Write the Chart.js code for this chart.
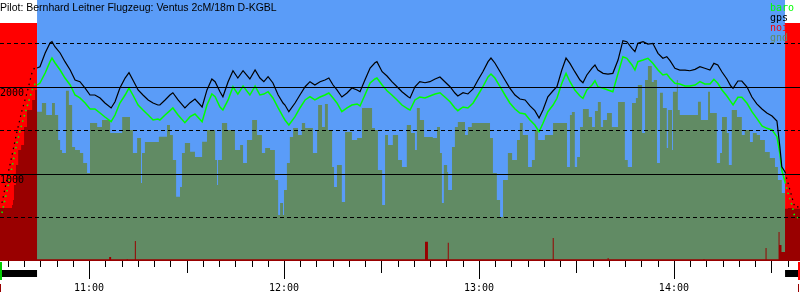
<!DOCTYPE html>
<html>
<head>
<meta charset="utf-8">
<script src="https://cdn.jsdelivr.net/npm/chart.js@4.4.1/dist/chart.umd.min.js"></script>
<style>
  html, body { margin: 0; padding: 0; background: #fff; }
  #wrap { width: 800px; height: 300px; }
</style>
</head>
<body>
<div id="wrap"><canvas id="barogram" width="800" height="300"></canvas></div>
<script>
const title = 'Pilot: Bernhard Leitner Flugzeug: Ventus 2cM/18m D-KGBL';

// time axis, minutes after midnight
const timeMin = 632.6;
const timeMax = 878.8;
const hourTicks = [660, 720, 780, 840];
const hourLabels = ['11:00', '12:00', '13:00', '14:00'];
const altTicks = [1000, 2000];
const altLabels = ['1000', '2000'];

const takeoff = 644.0;
const landing = 874.2;
const engineRuns = [[632.6, 644.0], [874.2, 878.8]];
const engineTop = 2735;

const trackTimes = [633.2, 634.8, 636.3, 637.8, 639.4, 640.9, 642.5, 643.4, 644.0, 644.9,
    646.5, 648.0, 648.6, 649.5, 651.1, 652.6, 654.2, 655.7, 657.2, 658.8,
    660.3, 661.8, 663.4, 664.9, 666.8, 668.0, 669.5, 671.1, 672.3, 673.5,
    675.1, 676.6, 678.2, 679.7, 681.2, 681.8, 683.4, 684.9, 685.8, 687.4,
    689.5, 691.1, 692.6, 694.8, 696.3, 697.8, 698.8, 700.3, 701.2, 702.8,
    704.3, 705.8, 707.4, 709.5, 711.1, 712.6, 713.8, 715.1, 716.6, 718.2,
    719.7, 720.3, 721.5, 723.4, 724.9, 726.5, 728.0, 729.5, 731.1, 732.6,
    733.8, 735.1, 736.3, 737.8, 739.4, 740.9, 742.5, 743.4, 744.9, 746.5,
    748.0, 748.6, 750.2, 751.7, 753.2, 754.8, 756.3, 758.2, 758.8, 760.3,
    761.8, 763.4, 764.9, 766.5, 768.0, 769.5, 771.1, 772.6, 773.5, 775.1,
    776.6, 778.2, 779.7, 781.2, 782.8, 783.7, 784.9, 786.5, 788.0, 789.5,
    791.1, 792.6, 794.2, 795.7, 797.2, 798.5, 799.7, 801.2, 802.8, 804.0,
    805.5, 806.8, 808.0, 809.5, 811.1, 812.0, 813.2, 814.8, 815.7, 816.6,
    818.2, 819.7, 821.2, 822.8, 824.3, 825.5, 827.1, 828.0, 828.9, 830.5,
    832.0, 833.5, 835.1, 836.6, 837.8, 838.8, 840.3, 841.8, 843.4, 844.9,
    846.5, 848.0, 849.5, 851.1, 852.3, 853.5, 854.8, 856.3, 857.5, 858.2,
    859.7, 860.9, 862.5, 864.0, 865.5, 867.1, 868.6, 870.2, 871.7, 872.6,
    873.2, 874.2, 875.1, 876.3, 877.2, 878.5];

const gpsAlt = [667, 954, 1218, 1483, 1736, 1931, 2172, 2230,
    2218, 2233, 2391, 2506, 2521, 2463, 2391, 2291, 2195, 2080,
    2061, 1988, 1908, 1908, 1874, 1816, 1759, 1831, 1988, 2103,
    2164, 2080, 1966, 1908, 1851, 1816, 1793, 1793, 1851, 1908,
    1934, 1851, 1759, 1820, 1862, 1770, 1966, 2092, 2061, 1946,
    1888, 2061, 2187, 2103, 2187, 2092, 2195, 2103, 2061, 2118,
    2046, 1908, 1816, 1793, 1716, 1816, 1908, 2003, 2061, 2023,
    2061, 2080, 2103, 2023, 1966, 1885, 1931, 1988, 1966, 1946,
    2080, 2218, 2279, 2291, 2176, 2126, 2061, 2003, 1946, 1888,
    1874, 2003, 2061, 2049, 2061, 2092, 2115, 2061, 2003, 1931,
    1897, 1934, 1920, 1977, 2080, 2176, 2291, 2333, 2276, 2176,
    2080, 1988, 1908, 1862, 1851, 1782, 1728, 1644, 1736, 1888,
    1957, 2003, 2195, 2333, 2272, 2176, 2080, 2049, 2138, 2218,
    2253, 2195, 2157, 2149, 2157, 2310, 2532, 2521, 2445, 2406,
    2502, 2521, 2494, 2502, 2387, 2330, 2348, 2302, 2215, 2195,
    2195, 2187, 2203, 2233, 2215, 2195, 2272, 2253, 2172, 2092,
    2011, 1985, 2069, 2069, 2000, 1885, 1805, 1747, 1701, 1667,
    1609, 1314, 1084, 1023, 897, 736, 621, 621];

const baroAlt = [552, 816, 1080, 1356, 1586, 1770, 1966, 2034,
    2023, 2046, 2161, 2291, 2333, 2279, 2195, 2103, 2023, 1908,
    1874, 1816, 1747, 1747, 1701, 1655, 1601, 1678, 1816, 1908,
    1988, 1908, 1793, 1736, 1678, 1621, 1632, 1621, 1678, 1728,
    1759, 1678, 1590, 1659, 1690, 1601, 1793, 1919, 1888, 1770,
    1736, 1851, 2003, 1919, 2011, 1908, 2011, 1908, 1919, 1946,
    1874, 1759, 1659, 1621, 1563, 1659, 1759, 1851, 1888, 1851,
    1885, 1908, 1931, 1874, 1816, 1716, 1759, 1793, 1805, 1782,
    1908, 2046, 2092, 2103, 2023, 1957, 1908, 1851, 1793, 1747,
    1736, 1851, 1885, 1874, 1897, 1919, 1934, 1885, 1831, 1759,
    1728, 1770, 1759, 1816, 1908, 2003, 2115, 2149, 2103, 2003,
    1908, 1816, 1747, 1701, 1690, 1621, 1563, 1486, 1583, 1716,
    1793, 1870, 2043, 2157, 2061, 1966, 1897, 1870, 1966, 2023,
    2072, 2003, 1985, 1966, 1946, 2157, 2348, 2330, 2253, 2195,
    2291, 2310, 2330, 2272, 2195, 2138, 2149, 2100, 2043, 2034,
    2011, 2011, 2023, 2061, 2034, 2034, 2088, 2043, 1966, 1897,
    1831, 1793, 1882, 1882, 1813, 1716, 1640, 1552, 1525, 1506,
    1429, 1238, 1046, 908, 782, 644, 506, 494];

const gndTimes = [644.0, 645.5, 646.8, 648.6, 649.5, 650.5, 651.1, 651.7, 652.9, 653.8,
    654.8, 655.7, 657.2, 658.2, 659.4, 660.3, 662.5, 664.0, 666.5, 670.2,
    672.6, 673.5, 674.8, 676.0, 676.3, 677.2, 681.5, 684.0, 684.9, 685.8,
    686.8, 688.0, 688.6, 689.5, 691.1, 692.6, 694.8, 696.3, 698.8, 699.4,
    699.7, 700.9, 702.5, 704.9, 706.5, 707.4, 708.6, 710.2, 711.7, 713.2,
    714.2, 715.7, 717.2, 718.2, 718.8, 719.7, 720.0, 720.9, 721.8, 722.8,
    724.3, 725.5, 726.5, 728.9, 730.2, 730.5, 731.7, 732.6, 733.5, 734.8,
    735.4, 736.3, 737.8, 738.8, 740.9, 742.5, 744.0, 747.1, 748.0, 748.9,
    750.2, 751.1, 752.0, 753.5, 755.1, 756.3, 757.8, 759.1, 760.3, 760.9,
    761.8, 763.1, 765.8, 767.1, 768.0, 768.6, 769.2, 770.2, 770.5, 771.7,
    772.6, 773.5, 775.7, 776.6, 777.8, 783.4, 784.3, 785.5, 786.5, 787.4,
    788.9, 790.2, 791.7, 792.6, 793.5, 795.1, 796.3, 797.2, 798.2, 800.3,
    802.8, 807.1, 808.0, 808.6, 809.5, 810.2, 811.1, 812.0, 813.8, 814.8,
    815.7, 816.6, 817.5, 818.2, 819.4, 820.9, 822.8, 824.9, 825.8, 827.1,
    828.3, 828.9, 830.2, 831.1, 832.0, 833.2, 833.8, 834.8, 835.7, 836.6,
    837.8, 838.2, 839.4, 839.7, 840.9, 841.2, 841.8, 847.4, 848.3, 850.5,
    851.1, 853.2, 854.2, 854.8, 856.3, 856.9, 857.8, 859.4, 860.9, 861.8,
    863.4, 864.3, 865.5, 866.5, 868.0, 869.5, 871.1, 872.0, 873.2, 874.2];

const gndAlt = [1716, 1816, 1678, 1816, 1678, 1391, 1276, 1241, 1957, 1793,
    1310, 1276, 1241, 1126, 1011, 1586, 1540, 1621, 1471, 1655,
    1506, 1241, 1414, 897, 1241, 1368, 1429, 1563, 1448, 1161,
    739, 851, 1241, 1356, 1256, 1195, 1371, 1506, 1161, 874,
    1161, 1586, 1506, 1276, 1333, 1126, 1391, 1621, 1448, 1241,
    1299, 1276, 931, 529, 667, 529, 816, 1126, 1425, 1529,
    1448, 1586, 1529, 1241, 1506, 1793, 1540, 1805, 1506, 1080,
    851, 1103, 678, 1483, 1391, 1414, 1759, 1529, 1506, 1046,
    644, 1448, 1333, 1448, 1161, 1080, 1563, 1471, 1276, 1759,
    1621, 1425, 1414, 1540, 1241, 667, 1103, 1023, 816, 1310,
    1540, 1598, 1448, 1540, 1586, 1414, 1011, 701, 506, 931,
    1241, 1161, 1391, 1586, 1448, 1080, 1161, 1506, 1391, 1448,
    1586, 1080, 1678, 1713, 1080, 1195, 1540, 1747, 1655, 1540,
    1724, 1828, 1540, 1621, 1701, 1540, 1828, 1161, 1080, 1816,
    1874, 2023, 1471, 2080, 2241, 2057, 2080, 1126, 1934, 1759,
    1299, 1736, 1276, 1946, 2080, 1736, 1678, 1831, 1621, 1946,
    1701, 1126, 1241, 1655, 1471, 1103, 1736, 1655, 1448, 1506,
    1368, 1471, 1448, 1391, 1253, 1184, 1080, 931, 782, 782];

const noiseTimes = [632.6, 636.3, 636.6, 636.9, 637.5, 638.2, 639.1, 640.0, 640.9, 642.5,
    643.4, 644.0, 666.2, 666.8, 671.6, 671.9, 674.1, 674.4, 763.4, 764.3,
    770.4, 770.7, 802.7, 803.0, 819.6, 819.9, 849.1, 849.4, 868.2, 868.5,
    872.2, 872.5, 873.1, 874.2, 875.1, 876.7, 878.8];
const noiseLevel = [609, 644, 701, 874, 1103, 1276, 1333, 1540, 1736, 1851,
    1966, 20, 46, 20, 23, 20, 230, 20, 222, 20,
    210, 20, 264, 20, 34, 20, 23, 20, 149, 20,
    333, 184, 103, 600, 609, 600, 600];

const legendOrder = ['baro', 'gps', 'noi', 'gnd'];

const SKY = '#5a9cf8';
const GND = '#618b64';
const NOISE = '#990000';
const ENGINE = '#ff0000';

const pts = (xs, ys) => xs.map((x, i) => ({ x: x, y: ys[i] }));
const offFlight = ctx => (ctx.p1.parsed.x <= takeoff || ctx.p0.parsed.x >= landing) ? [1.5, 4] : undefined;

// lower order is drawn on top; stepped 'before' holds each value until the next time
const datasets = [
    {
        label: 'sky',
        order: 6,
        data: [{ x: takeoff, y: 3000 }, { x: landing, y: 3000 }],
        backgroundColor: SKY,
        borderWidth: 0,
        fill: 'origin'
    },
    ...engineRuns.map((run, i) => ({
        label: i === 0 ? 'noi' : 'noi-end',
        order: 5,
        legendColor: ENGINE,
        data: [{ x: run[0], y: engineTop }, { x: run[1], y: engineTop }],
        backgroundColor: ENGINE,
        borderWidth: 0,
        fill: 'origin'
    })),
    {
        label: 'gnd',
        order: 4,
        legendColor: GND,
        data: pts(gndTimes, gndAlt),
        stepped: 'before',
        backgroundColor: GND,
        borderWidth: 0,
        fill: 'origin'
    },
    {
        label: 'noise',
        order: 3,
        data: pts(noiseTimes, noiseLevel),
        stepped: 'before',
        backgroundColor: NOISE,
        borderWidth: 0,
        fill: 'origin'
    },
    {
        label: 'baro',
        order: 2,
        legendColor: '#00ff00',
        data: pts(trackTimes, baroAlt),
        borderColor: '#00ff00',
        borderWidth: 1.5,
        segment: { borderDash: offFlight }
    },
    {
        label: 'gps',
        order: 1,
        legendColor: '#000000',
        data: pts(trackTimes, gpsAlt),
        borderColor: '#000000',
        borderWidth: 1.2,
        segment: { borderDash: offFlight }
    }
];

const barogramDecor = {
    id: 'barogramDecor',
    beforeDraw(chart) {
        const { ctx, width, height } = chart;
        ctx.save();
        ctx.fillStyle = '#fff';
        ctx.fillRect(0, 0, width, height);
        ctx.restore();
    },
    afterDraw(chart) {
        const { ctx, chartArea } = chart;
        const xs = chart.scales.x;
        const bottom = chartArea.bottom;
        ctx.save();

        // time tick marks, longer every half hour and hour
        ctx.strokeStyle = '#000';
        ctx.lineWidth = 1;
        xs.ticks.forEach(t => {
            const v = t.value;
            const len = v % 60 === 0 ? 18 : (v % 30 === 0 ? 12 : 6);
            const px = Math.round(xs.getPixelForValue(v)) + 0.5;
            ctx.beginPath();
            ctx.moveTo(px, bottom);
            ctx.lineTo(px, bottom + len);
            ctx.stroke();
        });

        // engine runs under the axis
        ctx.fillStyle = '#000';
        engineRuns.forEach(run => {
            const a = xs.getPixelForValue(run[0]);
            const b = xs.getPixelForValue(run[1]);
            ctx.fillRect(a, bottom + 9, b - a, 7);
        });

        // log start / end markers
        const p0 = xs.getPixelForValue(timeMin);
        const p1 = xs.getPixelForValue(timeMax);
        ctx.fillStyle = '#00cc00';
        ctx.fillRect(p0, bottom + 1, 2, 18);
        ctx.fillStyle = ENGINE;
        ctx.fillRect(p1 - 2, bottom + 1, 2, 18);
        ctx.fillStyle = NOISE;
        ctx.fillRect(p0, bottom + 23, 1, 8);
        ctx.fillRect(p1 - 2, bottom + 23, 1, 8);

        // title
        ctx.fillStyle = '#000';
        ctx.font = '10.5px "Liberation Sans"';
        ctx.textBaseline = 'alphabetic';
        ctx.textAlign = 'left';
        ctx.fillText(title, 0, 11);

        // legend
        ctx.font = '10px "DejaVu Sans Mono"';
        legendOrder.forEach((name, i) => {
            const ds = chart.data.datasets.find(d => d.label === name);
            ctx.fillStyle = ds.legendColor;
            ctx.fillText(name, chartArea.right - 30, 10.5 + i * 10);
        });
        ctx.restore();
    }
};

const monoFont = { family: 'DejaVu Sans Mono', size: 10 };

new Chart(document.getElementById('barogram'), {
    type: 'line',
    data: { datasets: datasets },
    options: {
        responsive: false,
        animation: false,
        events: [],
        layout: { padding: 0, autoPadding: false },
        elements: {
            point: { radius: 0 },
            line: { tension: 0 }
        },
        plugins: {
            legend: { display: false },
            tooltip: { enabled: false },
            title: { display: false }
        },
        scales: {
            x: {
                type: 'linear',
                min: timeMin,
                max: timeMax,
                afterFit: s => {
                    s.height = 39;
                    s.paddingLeft = 0;
                    s.paddingRight = 0;
                },
                grid: { display: false, drawTicks: false },
                border: { display: false },
                ticks: {
                    stepSize: 5,
                    includeBounds: false,
                    autoSkip: false,
                    maxRotation: 0,
                    padding: 21,
                    color: '#000',
                    font: monoFont,
                    callback: v => {
                        const i = hourTicks.indexOf(v);
                        return i >= 0 ? hourLabels[i] : '';
                    }
                }
            },
            y: {
                min: 0,
                max: 3000,
                position: 'left',
                afterFit: s => {
                    s.width = 0;
                    s.paddingTop = 0;
                    s.paddingBottom = 0;
                },
                grid: {
                    z: 1,
                    drawTicks: false,
                    color: c => altTicks.includes(c.tick.value) ? '#000' : 'rgba(0,0,0,0)'
                },
                border: { display: false },
                ticks: {
                    z: 1,
                    stepSize: 1000,
                    mirror: true,
                    padding: 0,
                    labelOffset: 6,
                    color: '#000',
                    font: monoFont,
                    callback: v => {
                        const i = altTicks.indexOf(v);
                        return i >= 0 ? altLabels[i] : '';
                    }
                }
            },
            y2: {
                min: 0,
                max: 3000,
                position: 'left',
                afterFit: s => {
                    s.width = 0;
                    s.paddingTop = 0;
                    s.paddingBottom = 0;
                },
                grid: {
                    z: 1,
                    drawTicks: false,
                    color: c => c.tick.value % 1000 === 500 ? '#000' : 'rgba(0,0,0,0)'
                },
                border: { display: false, dash: [4, 3] },
                ticks: { stepSize: 500, display: false }
            }
        }
    },
    plugins: [barogramDecor]
});
</script>
</body>
</html>
